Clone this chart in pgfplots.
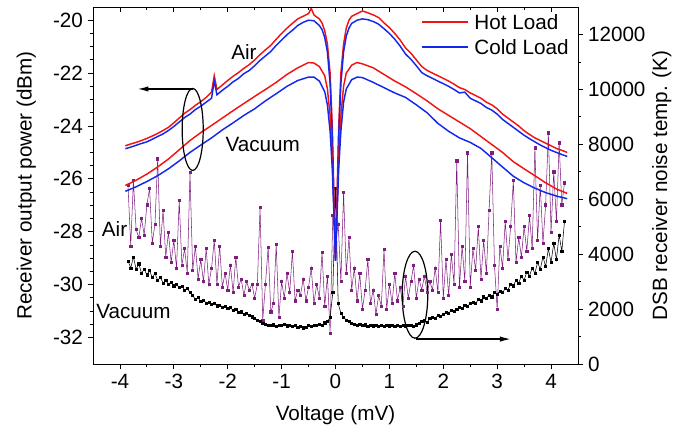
\documentclass[border=0pt]{standalone}
\usepackage{fontspec}
\setmainfont{Liberation Sans}
\usepackage{pgfplots}
\pgfplotsset{compat=1.18}
\usetikzlibrary{arrows.meta}

\definecolor{hotred}{RGB}{240,20,20}
\definecolor{coldblue}{RGB}{20,40,235}
\definecolor{airpurple}{RGB}{128,30,128}

\pgfplotsset{
  common/.style={
    scale only axis, width=363.75pt, height=267.75pt,
    xmin=-4.5, xmax=4.5,
    font=\fontsize{15.5}{18}\selectfont,
    tick label style={font=\fontsize{15.5}{18}\selectfont},
    /pgf/number format/assume math mode=true,
    /pgf/number format/1000 sep={},
    major tick length=4pt, minor tick length=2.5pt,
    every tick/.style={black, line width=0.6pt},
    axis line style={line width=0.7pt},
  },
}

\begin{document}
\begin{tikzpicture}
\path[use as bounding box] (-69.75pt,-52.5pt) rectangle (450.75pt,273pt);

% noise temperature (right axis)
\begin{axis}[common,
  hide x axis, axis y line*=right, tick align=outside,
  ymin=0, ymax=13000, ytick={0,2000,...,12000}, minor y tick num=1,
  scaled y ticks=false,
  every axis y label/.style={at={(axis description cs:1.173,0.5)}, rotate=90, anchor=center},
  ylabel={DSB receiver noise temp. (K)},
]
\addplot[airpurple, line width=0.4pt, mark=square*, mark size=0.8pt] table {
-3.85 6495
-3.80 4300
-3.75 6676
-3.70 4900
-3.65 4600
-3.60 5300
-3.55 4700
-3.50 5800
-3.45 6386
-3.40 4400
-3.35 5100
-3.30 7475
-3.25 4300
-3.20 5588
-3.15 3900
-3.10 4800
-3.05 3700
-3.00 4500
-2.95 3500
-2.90 5951
-2.85 3600
-2.80 4200
-2.75 3300
-2.70 6967
-2.65 3400
-2.60 4300
-2.55 3100
-2.50 3800
-2.45 3000
-2.40 4200
-2.35 2900
-2.30 3500
-2.25 4500
-2.20 2900
-2.15 4300
-2.10 2800
-2.05 3300
-2.00 2700
-1.95 3600
-1.90 2600
-1.85 3900
-1.80 2800
-1.75 3100
-1.70 2500
-1.65 3000
-1.60 2700
-1.55 2900
-1.50 2400
-1.45 2900
-1.40 5697
-1.35 1600
-1.30 2900
-1.25 4245
-1.20 1900
-1.15 2200
-1.10 4354
-1.05 1700
-1.00 3000
-0.95 2400
-0.90 3300
-0.85 2600
-0.80 4100
-0.75 2300
-0.70 2700
-0.65 2500
-0.60 3100
-0.55 2300
-0.50 2800
-0.45 3500
-0.40 2200
-0.35 2900
-0.30 2400
-0.25 4064
-0.20 2100
-0.15 3200
-0.10 1125
-0.05 5400
0.00 4500
0.05 5100
0.10 3000
0.15 6240
0.20 3300
0.25 4608
0.30 2700
0.35 3500
0.40 2300
0.45 3300
0.50 2000
0.55 2700
0.60 3800
0.65 2200
0.70 2700
0.75 1800
0.80 2500
0.85 2100
0.90 4172
0.95 2000
1.00 2900
1.05 2200
1.10 3300
1.15 2300
1.20 2800
1.25 2100
1.30 3200
1.35 2400
1.40 3000
1.45 3592
1.50 2400
1.55 3100
1.60 2700
1.65 3200
1.70 2600
1.75 3000
1.80 2700
1.85 3500
1.90 2600
1.95 5225
2.00 2400
2.05 3800
2.10 2500
2.15 4000
2.20 2900
2.25 7402
2.30 2800
2.35 4300
2.40 3000
2.45 7692
2.50 2800
2.55 4200
2.60 3400
2.65 5000
2.70 3100
2.75 4500
2.80 3300
2.85 5600
2.90 7692
2.95 3600
3.00 2000
3.05 4300
3.10 3500
3.15 5200
3.20 3800
3.25 5000
3.30 6676
3.35 3700
3.40 4600
3.45 3900
3.50 5000
3.55 4100
3.60 5400
3.65 4200
3.70 7874
3.75 4500
3.80 6500
3.85 4400
3.90 5800
3.95 8418
4.00 4800
4.05 7000
4.10 5200
4.15 8055
4.20 5800
4.25 6600
};
\addplot[black, line width=0.4pt, mark=square*, mark size=0.8pt] table {
-3.85 3750
-3.80 3500
-3.75 3900
-3.70 3450
-3.65 3650
-3.60 3300
-3.55 3450
-3.50 3250
-3.45 3400
-3.40 3150
-3.35 3300
-3.30 3050
-3.25 3150
-3.20 2950
-3.15 3050
-3.10 2900
-3.05 2980
-3.00 2850
-2.95 2900
-2.90 2780
-2.85 2820
-2.80 2700
-2.75 2750
-2.70 2600
-2.65 2500
-2.60 2350
-2.55 2420
-2.50 2280
-2.45 2330
-2.40 2220
-2.35 2250
-2.30 2180
-2.25 2200
-2.20 2120
-2.15 2150
-2.10 2080
-2.05 2100
-2.00 2030
-1.95 2050
-1.90 1960
-1.85 1980
-1.80 1880
-1.75 1900
-1.70 1820
-1.65 1840
-1.60 1760
-1.55 1720
-1.50 1680
-1.45 1600
-1.40 1550
-1.35 1480
-1.30 1450
-1.25 1420
-1.20 1400
-1.15 1430
-1.10 1380
-1.05 1420
-1.00 1400
-0.95 1440
-0.90 1390
-0.85 1420
-0.80 1370
-0.75 1400
-0.70 1350
-0.65 1380
-0.60 1320
-0.55 1350
-0.50 1400
-0.45 1370
-0.40 1420
-0.35 1400
-0.30 1450
-0.25 1420
-0.20 1500
-0.15 1550
-0.10 1700
-0.05 2600
0.00 6400
0.05 2200
0.10 1850
0.15 1700
0.20 1600
0.25 1550
0.30 1480
0.35 1450
0.40 1420
0.45 1460
0.50 1400
0.55 1430
0.60 1380
0.65 1410
0.70 1390
0.75 1420
0.80 1380
0.85 1400
0.90 1370
0.95 1410
1.00 1390
1.05 1420
1.10 1380
1.15 1400
1.20 1370
1.25 1410
1.30 1390
1.35 1420
1.40 1400
1.45 1380
1.50 1430
1.55 1480
1.60 1550
1.65 1600
1.70 1520
1.75 1650
1.80 1700
1.85 1650
1.90 1780
1.95 1750
2.00 1820
2.05 1880
2.10 1850
2.15 1950
2.20 1920
2.25 2000
2.30 2080
2.35 2030
2.40 2150
2.45 2100
2.50 2200
2.55 2250
2.60 2200
2.65 2350
2.70 2300
2.75 2450
2.80 2400
2.85 2500
2.90 2450
2.95 2600
3.00 2550
3.05 2650
3.10 2600
3.15 2750
3.20 2700
3.25 2900
3.30 2850
3.35 3050
3.40 2950
3.45 3200
3.50 3050
3.55 3350
3.60 3200
3.65 3500
3.70 3300
3.75 3700
3.80 3450
3.85 3900
3.90 3550
3.95 4200
4.00 3700
4.05 4400
4.10 3800
4.15 4700
4.20 4100
4.25 5200
};
\draw[line width=0.9pt] (axis cs:1.475,2522) ellipse [x radius=9.6pt, y radius=32.6pt];
\draw[line width=0.9pt, -{Latex[length=8pt,width=4pt]}] (axis cs:1.5,907) -- (axis cs:3.25,907);
\end{axis}

% receiver output power (left axis)
\begin{axis}[common,
  tick align=outside, xtick pos=left, ytick pos=left,
  ymin=-33, ymax=-19.5,
  xtick={-4,...,4}, minor x tick num=1,
  ytick={-32,-30,...,-20}, minor y tick num=3,
  every axis y label/.style={at={(axis description cs:-0.1375,0.5)}, rotate=90, anchor=center},
  every axis x label/.style={at={(axis description cs:0.5,-0.142)}, anchor=center},
  xlabel={Voltage (mV)},
  ylabel={Receiver output power (dBm)},
]
% Hot load, air
\addplot[hotred, line width=1.1pt] table {
-3.9 -24.75
-3.8 -24.68
-3.7 -24.62
-3.6 -24.55
-3.5 -24.47
-3.4 -24.38
-3.3 -24.28
-3.2 -24.17
-3.1 -24.05
-3.0 -23.88
-2.9 -23.7
-2.8 -23.52
-2.7 -23.38
-2.6 -23.22
-2.5 -23.08
-2.4 -22.92
-2.3 -22.72
-2.25 -22.1
-2.2 -22.62
-2.1 -22.45
-2.0 -22.28
-1.9 -22.12
-1.8 -21.98
-1.7 -21.82
-1.6 -21.68
-1.5 -21.5
-1.4 -21.3
-1.3 -21.12
-1.2 -20.95
-1.1 -20.72
-1.0 -20.5
-0.9 -20.3
-0.8 -20.12
-0.7 -19.95
-0.6 -19.85
-0.5 -19.75
-0.45 -19.55
-0.4 -19.8
-0.3 -19.95
-0.25 -20.1
-0.2 -20.4
-0.15 -20.9
-0.1 -22.0
-0.06 -24.0
-0.03 -26.5
0.0 -29.0
0.03 -26.5
0.06 -24.0
0.1 -22.0
0.15 -20.9
0.2 -20.3
0.25 -20.0
0.3 -19.85
0.4 -19.75
0.5 -19.65
0.6 -19.72
0.7 -19.8
0.8 -19.9
0.9 -20.1
1.0 -20.28
1.1 -20.5
1.2 -20.75
1.3 -21.05
1.4 -21.25
1.5 -21.5
1.6 -21.75
1.7 -21.9
1.8 -22.0
1.9 -22.1
2.0 -22.2
2.1 -22.3
2.2 -22.42
2.3 -22.55
2.4 -22.62
2.5 -22.75
2.6 -22.85
2.7 -22.95
2.8 -23.1
2.9 -23.2
3.0 -23.35
3.1 -23.55
3.2 -23.7
3.3 -23.85
3.4 -24.0
3.5 -24.18
3.6 -24.32
3.7 -24.45
3.8 -24.55
3.9 -24.65
4.0 -24.75
4.1 -24.85
4.2 -24.92
4.3 -25.0
};
% Cold load, air
\addplot[coldblue, line width=1.1pt] table {
-3.9 -24.86
-3.8 -24.8
-3.7 -24.73
-3.6 -24.66
-3.5 -24.6
-3.4 -24.5
-3.3 -24.4
-3.2 -24.3
-3.1 -24.17
-3.0 -24.02
-2.9 -23.85
-2.8 -23.68
-2.7 -23.55
-2.6 -23.38
-2.5 -23.25
-2.4 -23.1
-2.3 -22.95
-2.25 -22.3
-2.2 -22.82
-2.1 -22.65
-2.0 -22.5
-1.9 -22.33
-1.8 -22.2
-1.7 -22.02
-1.6 -21.9
-1.5 -21.72
-1.4 -21.52
-1.3 -21.35
-1.2 -21.18
-1.1 -20.95
-1.0 -20.75
-0.9 -20.55
-0.8 -20.38
-0.7 -20.2
-0.6 -20.08
-0.5 -20.0
-0.4 -20.02
-0.3 -20.2
-0.25 -20.35
-0.2 -20.65
-0.15 -21.2
-0.1 -22.4
-0.06 -24.4
-0.03 -27.0
0 -29.1
0.03 -27.0
0.06 -24.4
0.1 -22.4
0.15 -21.2
0.2 -20.6
0.25 -20.3
0.3 -20.12
0.4 -20.0
0.5 -19.95
0.6 -19.98
0.7 -20.05
0.8 -20.15
0.9 -20.32
1.0 -20.5
1.1 -20.72
1.2 -20.98
1.3 -21.28
1.4 -21.48
1.5 -21.72
1.6 -21.98
1.7 -22.1
1.8 -22.2
1.9 -22.3
2.0 -22.4
2.1 -22.5
2.2 -22.62
2.3 -22.75
2.4 -22.72
2.5 -22.95
2.6 -23.05
2.7 -23.15
2.8 -23.3
2.9 -23.4
3.0 -23.55
3.1 -23.75
3.2 -23.9
3.3 -24.05
3.4 -24.2
3.5 -24.35
3.6 -24.48
3.7 -24.6
3.8 -24.72
3.9 -24.82
4.0 -24.92
4.1 -25.0
4.2 -25.08
4.3 -25.15
};
% Hot load, vacuum
\addplot[hotred, line width=1.1pt] table {
-3.9 -26.25
-3.7 -26.05
-3.5 -25.82
-3.3 -25.55
-3.1 -25.25
-2.9 -24.9
-2.7 -24.55
-2.5 -24.25
-2.3 -23.98
-2.1 -23.7
-1.9 -23.42
-1.7 -23.15
-1.5 -22.88
-1.3 -22.62
-1.1 -22.35
-0.9 -22.05
-0.7 -21.8
-0.5 -21.6
-0.4 -21.62
-0.3 -21.75
-0.2 -22.1
-0.15 -22.6
-0.1 -23.6
-0.06 -25.2
-0.03 -27.0
0 -29.0
0.03 -27.0
0.06 -25.2
0.1 -23.6
0.15 -22.5
0.2 -22.0
0.3 -21.7
0.4 -21.6
0.5 -21.65
0.7 -21.8
0.9 -22.05
1.1 -22.3
1.3 -22.52
1.5 -22.78
1.7 -23.05
1.9 -23.35
2.1 -23.6
2.3 -23.85
2.5 -24.1
2.7 -24.4
2.9 -24.7
3.1 -25.0
3.3 -25.35
3.5 -25.62
3.7 -25.88
3.9 -26.15
4.1 -26.38
4.3 -26.55
};
% Cold load, vacuum
\addplot[coldblue, line width=1.1pt] table {
-3.9 -26.47
-3.7 -26.3
-3.5 -26.1
-3.3 -25.88
-3.1 -25.62
-2.9 -25.32
-2.7 -25.0
-2.5 -24.72
-2.3 -24.45
-2.1 -24.15
-1.9 -23.88
-1.7 -23.6
-1.5 -23.35
-1.3 -23.05
-1.1 -22.78
-0.9 -22.5
-0.7 -22.28
-0.5 -22.15
-0.4 -22.15
-0.3 -22.3
-0.2 -22.7
-0.15 -23.2
-0.1 -24.2
-0.06 -25.6
-0.03 -27.3
0 -29.1
0.03 -27.3
0.06 -25.6
0.1 -24.2
0.15 -23.1
0.2 -22.6
0.3 -22.25
0.4 -22.15
0.5 -22.17
0.7 -22.35
0.9 -22.55
1.1 -22.75
1.3 -22.92
1.5 -23.2
1.7 -23.5
1.9 -23.9
2.1 -24.2
2.3 -24.45
2.5 -24.62
2.7 -24.85
2.9 -25.2
3.1 -25.55
3.3 -25.9
3.5 -26.15
3.7 -26.35
3.9 -26.52
4.1 -26.65
4.3 -26.75
};
% legend
\draw[hotred, line width=1.1pt] (axis description cs:0.678,0.958) -- (axis description cs:0.773,0.958);
\node[anchor=west, inner sep=0pt] at (axis description cs:0.786,0.958) {Hot Load};
\draw[coldblue, line width=1.1pt] (axis description cs:0.678,0.888) -- (axis description cs:0.773,0.888);
\node[anchor=west, inner sep=0pt] at (axis description cs:0.786,0.888) {Cold Load};
% annotations
\node at (axis cs:-1.7,-21.2) {Air};
\node at (axis cs:-1.35,-24.7) {Vacuum};
\node at (axis cs:-4.1,-27.9) {Air};
\node at (axis cs:-3.75,-31.0) {Vacuum};
\draw[line width=0.9pt] (axis cs:-2.65,-24.13) ellipse [x radius=7.9pt, y radius=30.75pt];
\draw[line width=0.9pt, -{Latex[length=8pt,width=4pt]}] (axis cs:-2.64,-22.6) -- (axis cs:-3.67,-22.6);
\end{axis}

% top ticks pointing inward
\begin{axis}[common,
  hide y axis, axis x line*=top, tick align=inside,
  ymin=0, ymax=1,
  xtick={-4,...,4}, minor x tick num=1, xticklabels={},
]
\end{axis}
\end{tikzpicture}
\end{document}
